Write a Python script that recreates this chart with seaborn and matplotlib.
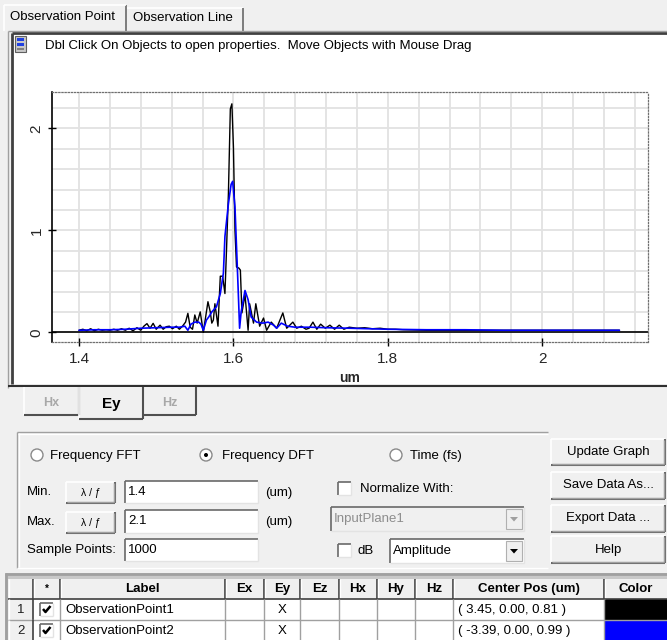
import numpy as np
import pandas as pd
import seaborn as sns
import matplotlib.pyplot as plt
from matplotlib.patches import Rectangle, Circle, Polygon
from matplotlib.ticker import MultipleLocator

# ObservationPoint1 (black) - Ey amplitude vs wavelength (um)
wl_1 = [1.400, 1.405, 1.410, 1.415, 1.420, 1.425, 1.430, 1.435, 1.440, 1.445,
        1.450, 1.455, 1.460, 1.465, 1.470, 1.475, 1.480, 1.484, 1.488, 1.492,
        1.496, 1.500, 1.505, 1.509, 1.513, 1.517, 1.521, 1.526, 1.530, 1.534,
        1.538, 1.541, 1.544, 1.547, 1.550, 1.553, 1.557, 1.561, 1.564, 1.567,
        1.570, 1.572, 1.574, 1.576, 1.580, 1.583, 1.586, 1.589, 1.591, 1.5935,
        1.596, 1.598, 1.600, 1.602, 1.604, 1.607, 1.609, 1.611, 1.615, 1.619,
        1.621, 1.626, 1.629, 1.634, 1.639, 1.643, 1.649, 1.656, 1.664, 1.669,
        1.677, 1.682, 1.688, 1.694, 1.698, 1.703, 1.708, 1.713, 1.719, 1.725,
        1.731, 1.737, 1.743, 1.750, 1.760, 1.770, 1.780, 1.790, 1.800, 1.810,
        1.820, 1.850, 1.900, 1.950, 2.000, 2.050, 2.100]
amp_1 = [0.02, 0.03, 0.015, 0.035, 0.015, 0.03, 0.02, 0.025, 0.02, 0.03,
         0.02, 0.035, 0.02, 0.04, 0.015, 0.045, 0.02, 0.06, 0.085, 0.04,
         0.088, 0.03, 0.07, 0.03, 0.055, 0.06, 0.035, 0.06, 0.03, 0.06,
         0.10, 0.186, 0.05, 0.03, 0.17, 0.09, 0.20, 0.0, 0.15, 0.30,
         0.20, 0.09, 0.12, 0.28, 0.06, 0.55, 0.55, 0.38, 0.80, 1.36,
         2.19, 2.24, 1.82, 1.00, 0.64, 0.63, 0.61, 0.19, 0.37, 0.02,
         0.28, 0.09, 0.28, 0.06, 0.14, 0.02, 0.10, 0.04, 0.19, 0.04,
         0.10, 0.04, 0.06, 0.03, 0.04, 0.10, 0.03, 0.08, 0.04, 0.07,
         0.03, 0.07, 0.03, 0.05, 0.04, 0.045, 0.035, 0.04, 0.03, 0.03,
         0.025, 0.02, 0.02, 0.02, 0.02, 0.02, 0.02]

# ObservationPoint2 (blue)
wl_2 = [1.400, 1.420, 1.440, 1.460, 1.480, 1.500, 1.520, 1.530, 1.537, 1.541,
        1.545, 1.550, 1.555, 1.558, 1.561, 1.565, 1.568, 1.572, 1.578, 1.583,
        1.587, 1.589, 1.5935, 1.597, 1.599, 1.602, 1.604, 1.606, 1.608, 1.610,
        1.615, 1.619, 1.623, 1.630, 1.638, 1.645, 1.652, 1.656, 1.662, 1.670,
        1.680, 1.700, 1.720, 1.750, 1.800, 1.850, 1.900, 1.950, 2.000, 2.050,
        2.100]
amp_2 = [0.02, 0.025, 0.025, 0.03, 0.04, 0.045, 0.05, 0.05, 0.06, 0.02,
         0.08, 0.10, 0.10, 0.08, 0.02, 0.12, 0.15, 0.20, 0.25, 0.38,
         0.58, 0.94, 1.26, 1.45, 1.48, 1.23, 0.84, 0.45, 0.04, 0.20,
         0.41, 0.32, 0.15, 0.10, 0.09, 0.10, 0.07, 0.04, 0.09, 0.06,
         0.05, 0.05, 0.045, 0.04, 0.03, 0.025, 0.025, 0.02, 0.02, 0.02,
         0.02]

x_ticks = [1.4, 1.6, 1.8, 2.0]
x_tick_labels = ["1.4", "1.6", "1.8", "2"]
y_ticks = [0, 1, 2]
y_tick_labels = ["0", "1", "2"]

table_headers = ["", "*", "Label", "Ex", "Ey", "Ez", "Hx", "Hy", "Hz", "Center Pos (um)", "Color"]
point_labels = ["ObservationPoint1", "ObservationPoint2"]
point_fields = ["", "X", "", "", "", ""]
point_pos = ["( 3.45, 0.00, 0.81 )", "( -3.39, 0.00, 0.99 )"]
point_colors = ["#000000", "#0000ff"]

sns.set_theme(style="white")
plt.rcParams['font.family'] = ['Liberation Sans', 'DejaVu Sans']

BG = "#f0f0f0"
fig = plt.figure(figsize=(6.67, 6.4), dpi=100, facecolor=BG)

# gui layer in pixel coords
bg = fig.add_axes([0, 0, 1, 1])
bg.set_xlim(0, 667)
bg.set_ylim(640, 0)
bg.axis("off")
bg.set_zorder(0)


def rect(x0, y0, x1, y1, fc="white", ec="#a0a0a0", lw=1.0, z=1):
    bg.add_patch(Rectangle((x0, y0), x1 - x0, y1 - y0, facecolor=fc, edgecolor=ec, lw=lw, zorder=z))


def line(xs, ys, c="#a0a0a0", lw=1.0, z=2):
    bg.plot(xs, ys, color=c, lw=lw, zorder=z, solid_capstyle="butt")


def txt(x, y, s, size=9.5, ha="left", color="black", weight="normal", z=5):
    bg.text(x, y, s, fontsize=size, ha=ha, va="center", color=color, fontweight=weight, zorder=z)


def button(x0, y0, x1, y1, label, size=9.5):
    rect(x0, y0, x1, y1, fc=BG, ec="none")
    line([x0, x1], [y0, y0], "white", 1.2)
    line([x0, x0], [y0, y1], "white", 1.2)
    line([x0, x1], [y1, y1], "#696969", 1.5)
    line([x1, x1], [y0, y1], "#696969", 1.5)
    line([x0 + 1, x1 - 1], [y1 - 1.5, y1 - 1.5], "#a0a0a0", 1)
    line([x1 - 1.5, x1 - 1.5], [y0 + 1, y1 - 1], "#a0a0a0", 1)
    txt((x0 + x1) / 2, (y0 + y1) / 2, label, size=size, ha="center")


def entry(x0, y0, x1, y1, value, fc="white", color="black"):
    rect(x0, y0, x1, y1, fc=fc, ec="none")
    line([x0, x1], [y0, y0], "#696969", 1.2)
    line([x0, x0], [y0, y1], "#696969", 1.2)
    line([x0, x1], [y1, y1], "#e3e3e3", 1)
    line([x1, x1], [y0, y1], "#e3e3e3", 1)
    txt(x0 + 3, (y0 + y1) / 2, value, color=color)


def checkbox(x0, y0, s=13, checked=False):
    rect(x0, y0, x0 + s, y0 + s, fc="white", ec="none")
    line([x0, x0 + s], [y0, y0], "#696969", 1.2)
    line([x0, x0], [y0, y0 + s], "#696969", 1.2)
    line([x0, x0 + s], [y0 + s, y0 + s], "#e3e3e3", 1)
    line([x0 + s, x0 + s], [y0, y0 + s], "#e3e3e3", 1)
    if checked:
        line([x0 + 3, x0 + 5.5, x0 + 10.5], [y0 + 6.5, y0 + 9.5, y0 + 3.5], "black", 1.8, z=3)


def radio(cx, cy, selected=False):
    bg.add_patch(Circle((cx, cy), 6, facecolor="white", edgecolor="#8a8a8a", lw=1, zorder=3))
    if selected:
        bg.add_patch(Circle((cx, cy), 2, facecolor="black", edgecolor="none", zorder=4))


def combo(x0, y0, x1, y1, value, enabled=True):
    entry(x0, y0, x1, y1, value, fc="white" if enabled else BG,
          color="black" if enabled else "#8d8d8d")
    bx = x1 - 18
    rect(bx, y0 + 2, x1 - 2, y1 - 2, fc=BG, ec="#b0b0b0", lw=0.8, z=3)
    tc = "black" if enabled else "#a0a0a0"
    cx, cy = (bx + x1 - 2) / 2, (y0 + y1) / 2
    bg.add_patch(Polygon([[cx - 4, cy - 2], [cx + 4, cy - 2], [cx, cy + 2.5]], closed=True,
                         facecolor=tc, edgecolor="none", zorder=4))


# top tabs
line([126, 126], [5, 31], "#696969", 1.2)
line([4, 4], [5, 31], "white", 1.2)
line([4, 126], [5, 5], "white", 1.2)
txt(10, 17, "Observation Point")
line([127, 243], [8, 8], "white", 1.2)
line([243, 243], [8, 31], "#696969", 1.2)
txt(133, 18, "Observation Line")

# graph panel
rect(12, 33, 668, 384, fc="white", ec="none")
line([12, 668], [33, 33], "#404040", 2)
line([12, 12], [33, 384], "#404040", 2)
line([8, 668], [31, 31], "#a0a0a0", 1)
line([8, 8], [31, 388], "#a0a0a0", 1)
line([8, 668], [386, 386], "#303030", 1.5)
# toolbar icon
rect(15, 36, 26, 52, fc="#c8c8c8", ec="#606060", lw=0.8, z=3)
rect(17, 38, 24, 41, fc="#2040e0", ec="none", z=4)
rect(17, 43, 24, 46, fc="#2040e0", ec="none", z=4)
rect(17, 48, 24, 50, fc="#808080", ec="none", z=4)
txt(45, 46, "Dbl Click On Objects to open properties.  Move Objects with Mouse Drag")

# field tabs Hx / Ey / Hz
for x0, x1, lab, active in [(24, 79, "Hx", False), (143, 196, "Hz", False), (79, 143, "Ey", True)]:
    y1 = 419 if active else 415
    rect(x0, 387, x1, y1, fc=BG, ec="none", z=2)
    line([x0, x0], [387, y1], "white", 1.2, z=3)
    line([x1, x1], [387, y1], "#505050", 1.5, z=3)
    line([x0, x1], [y1, y1], "#505050", 1.5, z=3)
    if active:
        txt((x0 + x1) / 2, 404, lab, size=11, ha="center", weight="bold")
    else:
        txt((x0 + x1) / 2, 403, lab, size=9, ha="center", color="#a8a8a8", weight="bold")

# settings group box
rect(17, 432, 548, 568, fc=BG, ec="none")
line([17, 548], [432, 432], "#a0a0a0", 1)
line([17, 17], [432, 568], "#a0a0a0", 1)
line([17, 548], [568, 568], "white", 1)
line([18, 548], [433.5, 433.5], "white", 1)
line([18.5, 18.5], [433, 567], "white", 1)

radio(37, 455)
txt(50, 456, "Frequency FFT")
radio(206, 455, selected=True)
txt(222, 456, "Frequency DFT")
radio(396, 455)
txt(410, 456, "Time (fs)")

txt(27, 492, "Min.")
button(66, 482, 115, 503, "λ / ƒ", size=7.5)
entry(125, 481, 258, 503, "1.4")
txt(265, 493, "(um)")
txt(27, 522, "Max.")
button(66, 512, 115, 533, "λ / ƒ", size=7.5)
entry(125, 510, 258, 533, "2.1")
txt(265, 522, "(um)")
txt(27, 550, "Sample Points:")
entry(125, 539, 258, 561, "1000")

checkbox(338, 482)
txt(360, 489, "Normalize With:")
combo(331, 507, 524, 531, "InputPlane1", enabled=False)
checkbox(338, 544)
txt(358, 551, "dB")
combo(390, 539, 524, 563, "Amplitude")

button(551, 439, 665, 465, "Update Graph")
button(551, 472, 665, 499, "Save Data As...")
button(551, 505, 665, 532, "Export Data ...")
button(551, 536, 665, 563, "Help")

# observation point table
col_edges = [8, 33, 60, 225, 264, 300, 339, 377, 415, 453, 604, 668]
row_edges = [579, 599, 620, 641]
rect(5, 573, 668, 641, fc="#c8c8c8", ec="none")
line([5, 668], [574, 574], "#a0a0a0", 2)
line([6, 6], [573, 641], "#a0a0a0", 2)
for i, head in enumerate(table_headers):
    x0, x1 = col_edges[i], col_edges[i + 1]
    rect(x0, 579, x1, 599, fc=BG, ec="none", z=2)
    line([x1 - 0.5, x1 - 0.5], [579, 599], "#404040", 1.2, z=3)
    line([x0 + 1, x0 + 1], [579, 599], "white", 1, z=3)
    txt((x0 + x1) / 2, 589, head, ha="center", weight="bold", size=9.5 if head != "*" else 7)
line([8, 668], [599, 599], "#404040", 1.2, z=3)

for r in range(2):
    y0, y1 = row_edges[r + 1], row_edges[r + 2]
    ym = (y0 + y1) / 2
    # row number cell
    rect(8, y0, 33, y1, fc=BG, ec="none", z=2)
    line([32.5, 32.5], [y0, y1], "#404040", 1.2, z=3)
    line([9, 9], [y0, y1], "white", 1, z=3)
    txt(20.5, ym + 0.5, str(r + 1), ha="center", size=9.5, color="#202020")
    # checkbox cell
    rect(33, y0, 60, y1, fc="white", ec="none", z=2)
    checkbox(40, y0 + 3.5, s=13, checked=True)
    cells = [point_labels[r]] + point_fields + [point_pos[r]]
    for c in range(2, 11):
        x0, x1 = col_edges[c], col_edges[c + 1]
        fc = point_colors[r] if c == 10 else "white"
        rect(x0, y0, x1, y1, fc=fc, ec="none", z=2)
        line([x0, x0], [y0, y1], "#a0a0a0", 1, z=3)
        if c < 10:
            val = cells[c - 2]
            if c in (2, 9):
                txt(x0 + 5, ym + 0.5, val)
            else:
                txt((x0 + x1) / 2, ym + 0.5, val, ha="center")
    line([8, 668], [y1, y1], "#a0a0a0", 1, z=3)

# --- the graph itself ---
ax = fig.add_axes([52 / 667, 1 - 342 / 640, 596 / 667, 250 / 640])
ax.set_zorder(2)
ax.set_facecolor("white")

df1 = pd.DataFrame({"wl": wl_1, "amp": amp_1})
df2 = pd.DataFrame({"wl": wl_2, "amp": amp_2})
sns.lineplot(data=df1, x="wl", y="amp", color="black", lw=1.0, ax=ax, zorder=3)
sns.lineplot(data=df2, x="wl", y="amp", color="#0000ff", lw=1.2, ax=ax, zorder=4)

ax.set_xlim(1.365, 2.137)
ax.set_ylim(-0.095, 2.356)
ax.axhline(0, color="black", lw=1.2, zorder=2)

ax.set_xticks(x_ticks)
ax.set_xticklabels(x_tick_labels, fontsize=11)
ax.xaxis.set_minor_locator(MultipleLocator(0.04))
ax.set_yticks(y_ticks)
ax.set_yticklabels(y_tick_labels, fontsize=11, rotation=90, va="center")
ax.yaxis.set_minor_locator(MultipleLocator(0.2))
ax.tick_params(axis="both", which="both", direction="inout", color="black", width=1)
ax.tick_params(axis="x", which="major", length=6, pad=4)
ax.tick_params(axis="x", which="minor", length=4)
ax.tick_params(axis="y", which="major", length=6, pad=3)
ax.tick_params(axis="y", which="minor", length=4)
ax.tick_params(bottom=True, left=True)

ax.grid(True, which="both", color="#e2e2e2", lw=1.3, zorder=0)
ax.set_axisbelow(True)

for side in ["top", "right", "bottom"]:
    ax.spines[side].set_linestyle((0, (1, 1.5)))
    ax.spines[side].set_color("#707070")
    ax.spines[side].set_linewidth(0.9)
ax.spines["left"].set_color("black")
ax.spines["left"].set_linewidth(1.2)

ax.set_xlabel("um", fontsize=10, fontweight="bold")
ax.xaxis.set_label_coords(0.5, -0.115)
ax.set_ylabel("")

fig.savefig("out.png", dpi=100, facecolor=BG)
